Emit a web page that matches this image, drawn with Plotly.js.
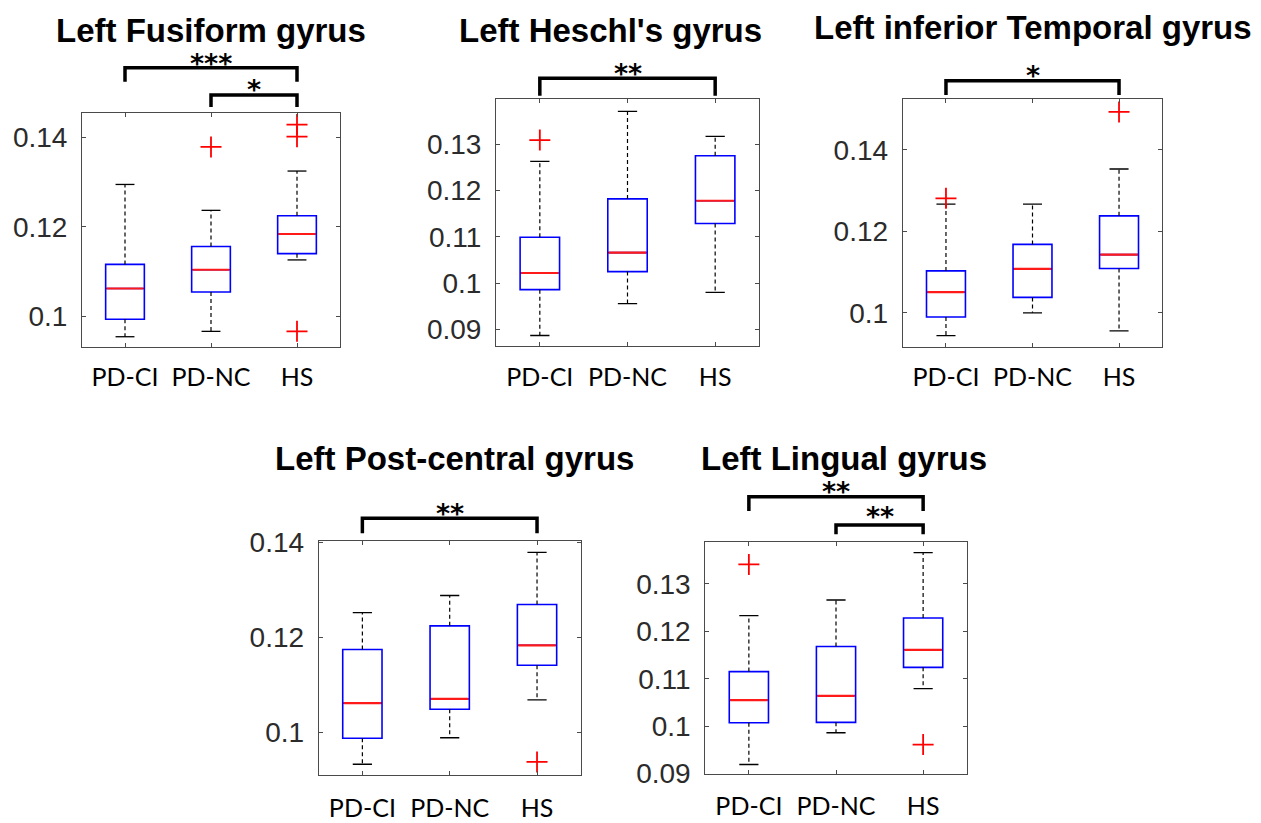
<!DOCTYPE html>
<html>
<head>
<meta charset="utf-8">
<script src="https://cdn.plot.ly/plotly-3.0.1.min.js"></script>
<style>
  html, body { margin: 0; padding: 0; background: #fff; }
  #chart { width: 1261px; height: 823px; }
</style>
</head>
<body>
<div id="chart"></div>
<script>
// Group labels shared by every panel
const groups = ['PD-CI', 'PD-NC', 'HS'];

// Left Fusiform gyrus
const fusiformUpper  = [0.1295, 0.1237, 0.1325];
const fusiformQ3     = [0.1116, 0.1156, 0.1225];
const fusiformMedian = [0.1062, 0.1104, 0.1184];
const fusiformQ1     = [0.0993, 0.1054, 0.1140];
const fusiformLower  = [0.0954, 0.0966, 0.1126];
const fusiformOutGroup = [1, 2, 2, 2];
const fusiformOutValue = [0.1379, 0.1429, 0.1402, 0.0966];
const fusiformTicks = [0.10, 0.12, 0.14];
const fusiformTickText = ['0.1', '0.12', '0.14'];
const fusiformSig = [[0, 2, '***'], [1, 2, '*']];

// Left Heschl's gyrus
const heschlUpper  = [0.1263, 0.1371, 0.1317];
const heschlQ3     = [0.1099, 0.1182, 0.1275];
const heschlMedian = [0.1022, 0.1066, 0.1178];
const heschlQ1     = [0.0986, 0.1025, 0.1129];
const heschlLower  = [0.0887, 0.0956, 0.0980];
const heschlOutGroup = [0];
const heschlOutValue = [0.1309];
const heschlTicks = [0.09, 0.10, 0.11, 0.12, 0.13];
const heschlTickText = ['0.09', '0.1', '0.11', '0.12', '0.13'];
const heschlSig = [[0, 2, '**']];

// Left inferior Temporal gyrus
const temporalUpper  = [0.1267, 0.1267, 0.1353];
const temporalQ3     = [0.1103, 0.1168, 0.1238];
const temporalMedian = [0.1051, 0.1108, 0.1143];
const temporalQ1     = [0.0990, 0.1038, 0.1109];
const temporalLower  = [0.0944, 0.1000, 0.0956];
const temporalOutGroup = [0, 2];
const temporalOutValue = [0.1281, 0.1493];
const temporalTicks = [0.10, 0.12, 0.14];
const temporalTickText = ['0.1', '0.12', '0.14'];
const temporalSig = [[0, 2, '*']];

// Left Post-central gyrus
const postcentralUpper  = [0.1252, 0.1288, 0.1379];
const postcentralQ3     = [0.1174, 0.1224, 0.1269];
const postcentralMedian = [0.1061, 0.1070, 0.1183];
const postcentralQ1     = [0.0987, 0.1048, 0.1141];
const postcentralLower  = [0.0932, 0.0988, 0.1068];
const postcentralOutGroup = [2];
const postcentralOutValue = [0.0937];
const postcentralTicks = [0.10, 0.12, 0.14];
const postcentralTickText = ['0.1', '0.12', '0.14'];
const postcentralSig = [[0, 2, '**']];

// Left Lingual gyrus
const lingualUpper  = [0.1233, 0.1266, 0.1366];
const lingualQ3     = [0.1115, 0.1168, 0.1228];
const lingualMedian = [0.1055, 0.1064, 0.1161];
const lingualQ1     = [0.1007, 0.1008, 0.1124];
const lingualLower  = [0.0919, 0.0986, 0.1079];
const lingualOutGroup = [0, 2];
const lingualOutValue = [0.1341, 0.0961];
const lingualTicks = [0.09, 0.10, 0.11, 0.12, 0.13];
const lingualTickText = ['0.09', '0.1', '0.11', '0.12', '0.13'];
const lingualSig = [[0, 2, '**'], [1, 2, '**']];

// ---- page geometry (pixels) ----
const W = 1261, H = 823;
const px = v => v / W;
const py = v => 1 - v / H;

// Each panel: plot rectangle, y range, title centre, x-label standoff, bracket levels
const panels = [
  { title: 'Left Fusiform gyrus', rect: [82, 113, 340, 347], yr: [0.0931, 0.1455], tc: [211, 30], xs: 8,
    upper: fusiformUpper, q3: fusiformQ3, med: fusiformMedian, q1: fusiformQ1, lower: fusiformLower,
    og: fusiformOutGroup, ov: fusiformOutValue, tv: fusiformTicks, tt: fusiformTickText, sig: fusiformSig,
    levels: [[67.7, 81.7, 60], [95, 107, 86]] },
  { title: "Left Heschl's gyrus", rect: [496, 99.3, 759, 345.7], yr: [0.0865, 0.1397], tc: [610, 30], xs: 9,
    upper: heschlUpper, q3: heschlQ3, med: heschlMedian, q1: heschlQ1, lower: heschlLower,
    og: heschlOutGroup, ov: heschlOutValue, tv: heschlTicks, tt: heschlTickText, sig: heschlSig,
    levels: [[78.3, 95.7, 69]] },
  { title: 'Left inferior Temporal gyrus', rect: [902.7, 99.3, 1162.3, 346.7], yr: [0.0917, 0.1524], tc: [1033, 28], xs: 8,
    upper: temporalUpper, q3: temporalQ3, med: temporalMedian, q1: temporalQ1, lower: temporalLower,
    og: temporalOutGroup, ov: temporalOutValue, tv: temporalTicks, tt: temporalTickText, sig: temporalSig,
    levels: [[80.7, 95, 71]] },
  { title: 'Left Post-central gyrus', rect: [318.7, 541, 580.7, 774.7], yr: [0.0910, 0.1403], tc: [454, 458], xs: 11,
    upper: postcentralUpper, q3: postcentralQ3, med: postcentralMedian, q1: postcentralQ1, lower: postcentralLower,
    og: postcentralOutGroup, ov: postcentralOutValue, tv: postcentralTicks, tt: postcentralTickText, sig: postcentralSig,
    levels: [[518.3, 533.3, 509]] },
  { title: 'Left Lingual gyrus', rect: [705.3, 541.7, 966.7, 774], yr: [0.0899, 0.1389], tc: [843.5, 458], xs: 10,
    upper: lingualUpper, q3: lingualQ3, med: lingualMedian, q1: lingualQ1, lower: lingualLower,
    og: lingualOutGroup, ov: lingualOutValue, tv: lingualTicks, tt: lingualTickText, sig: lingualSig,
    levels: [[496.7, 511, 487], [525, 534.3, 512]] }
];

const BOX_W = 0.45;      // box width in group units
const CAP_HALF = 0.11;   // whisker cap half-width in group units
const STAR_DROP = 4;     // asterisks sit high in their line box
const idx = [0, 1, 2];

const traces = [];
const shapes = [];
const annotations = [];
const layout = {
  width: W, height: H, autosize: false,
  margin: { l: 0, r: 0, t: 0, b: 0 },
  paper_bgcolor: '#ffffff', plot_bgcolor: '#ffffff',
  showlegend: false,
  shapes: shapes, annotations: annotations
};

panels.forEach((p, k) => {
  const n = k === 0 ? '' : String(k + 1);
  const xa = 'x' + n, ya = 'y' + n;
  const [x0, y0, x1, y1] = p.rect;

  layout['xaxis' + n] = {
    domain: [px(x0), px(x1)], anchor: ya,
    range: [-0.5, 2.5], tickvals: idx, ticktext: groups,
    ticks: 'inside', ticklen: 4, tickwidth: 1, tickcolor: '#4a4a4a',
    showline: true, linecolor: '#4a4a4a', linewidth: 1, mirror: 'ticks',
    showgrid: false, zeroline: false, fixedrange: true,
    ticklabelstandoff: p.xs,
    tickfont: { family: 'Lato, "Open Sans", sans-serif', size: 25, color: '#000' }
  };
  layout['yaxis' + n] = {
    domain: [py(y1), py(y0)], anchor: xa,
    range: p.yr, tickvals: p.tv, ticktext: p.tt,
    ticks: 'inside', ticklen: 4, tickwidth: 1, tickcolor: '#4a4a4a',
    showline: true, linecolor: '#4a4a4a', linewidth: 1, mirror: 'ticks',
    showgrid: false, zeroline: false, fixedrange: true,
    ticklabelstandoff: 8,
    tickfont: { family: '"Liberation Sans", Arial, sans-serif', size: 28, color: '#2b2b2b' }
  };

  // dashed whiskers
  const wx = [], wy = [];
  idx.forEach(i => {
    wx.push(i, i, null, i, i, null);
    wy.push(p.q3[i], p.upper[i], null, p.q1[i], p.lower[i], null);
  });
  traces.push({ type: 'scatter', mode: 'lines', xaxis: xa, yaxis: ya, x: wx, y: wy,
    line: { color: '#000', width: 1.2, dash: '4px,3px' }, hoverinfo: 'skip' });

  // whisker caps
  const cx = [], cy = [];
  idx.forEach(i => {
    cx.push(i - CAP_HALF, i + CAP_HALF, null, i - CAP_HALF, i + CAP_HALF, null);
    cy.push(p.upper[i], p.upper[i], null, p.lower[i], p.lower[i], null);
  });
  traces.push({ type: 'scatter', mode: 'lines', xaxis: xa, yaxis: ya, x: cx, y: cy,
    line: { color: '#000', width: 1.3 }, hoverinfo: 'skip' });

  // blue interquartile boxes
  traces.push({ type: 'box', xaxis: xa, yaxis: ya, x: idx,
    q1: p.q1, median: p.med, q3: p.q3, lowerfence: p.q1, upperfence: p.q3,
    width: BOX_W, whiskerwidth: 0, boxpoints: false,
    line: { color: '#0000ff', width: 1.6 }, fillcolor: 'rgba(0,0,0,0)', hoverinfo: 'skip' });

  // red median lines
  traces.push({ type: 'box', xaxis: xa, yaxis: ya, x: idx,
    q1: p.med, median: p.med, q3: p.med, lowerfence: p.med, upperfence: p.med,
    width: BOX_W - 0.02, whiskerwidth: 0, boxpoints: false,
    line: { color: '#ff1a1a', width: 2.2 }, fillcolor: 'rgba(0,0,0,0)', hoverinfo: 'skip' });

  // outliers
  traces.push({ type: 'scatter', mode: 'markers', xaxis: xa, yaxis: ya, x: p.og, y: p.ov,
    marker: { symbol: 'cross-thin', size: 15, color: '#ff0000', line: { color: '#ff0000', width: 1.8 } },
    cliponaxis: false, hoverinfo: 'skip' });

  // panel title
  annotations.push({ xref: 'paper', yref: 'paper', x: px(p.tc[0]), y: py(p.tc[1]),
    xanchor: 'center', yanchor: 'middle', showarrow: false,
    text: '<b>' + p.title + '</b>',
    font: { family: '"Liberation Sans", Arial, sans-serif', size: 33, color: '#000' } });

  // significance brackets
  p.sig.forEach((s, j) => {
    const [a, b, stars] = s;
    const [top, leg, starY] = p.levels[j];
    shapes.push({ type: 'path', xref: xa, yref: 'paper',
      path: `M ${a},${py(leg)} L ${a},${py(top)} L ${b},${py(top)} L ${b},${py(leg)}`,
      line: { color: '#000', width: 3.5 } });
    annotations.push({ xref: xa, yref: 'paper', x: (a + b) / 2, y: py(starY + STAR_DROP),
      xanchor: 'center', yanchor: 'middle', showarrow: false, text: '<b>' + stars + '</b>',
      font: { family: '"DejaVu Sans", sans-serif', size: 27, color: '#000' } });
  });
});

Plotly.newPlot('chart', traces, layout, { staticPlot: true, displayModeBar: false });
</script>
</body>
</html>
